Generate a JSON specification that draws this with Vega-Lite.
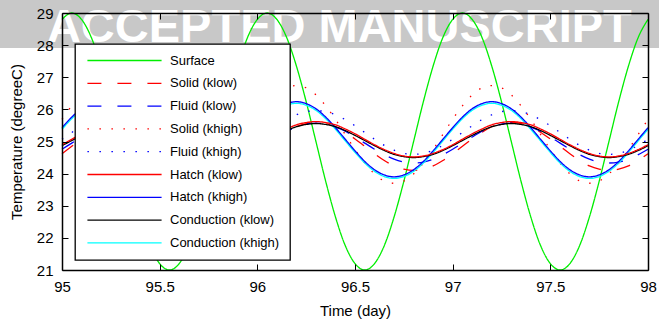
{
"$schema":"https://vega.github.io/schema/vega-lite/v6.json",
"width":586,"height":257,
"autosize":{"type":"none"},
"padding":{"left":62,"top":13,"right":11,"bottom":51},
"background":"white",
"title":{"text":"Hc = 2.50 - Ar/d = 0.2m","fontSize":15,"fontWeight":"normal","font":"Liberation Sans","color":"black","offset":10,"baseline":"bottom","dx":-24},
"config":{
 "view":{"stroke":null},
 "axis":{"domainColor":"black","domainWidth":1.5,"tickColor":"black","tickWidth":1,"tickSize":-6,"grid":false,"labelFlush":false,"labelOverlap":false,"labelFont":"Liberation Sans","labelFontSize":15,"labelColor":"black","titleFont":"Liberation Sans","titleFontSize":15,"titleFontWeight":"normal","titleColor":"black"},
 "legend":{"orient":"none","legendX":13,"legendY":31,"fillColor":"white","strokeColor":"black","strokeWidth":1.3,"padding":10,"rowPadding":8.8,"symbolType":"M-10,0L10,0","symbolSize":55,"symbolOffset":33,"labelOffset":39,"labelFont":"Liberation Sans","labelFontSize":13,"labelColor":"black","labelLimit":0}
},
"datasets":{
 "band":[{"x1":94.6,"x2":98.2,"y1":27.91,"y2":29.7}],
 "stamp":[{"x":96.42,"y":28.11,"label":"ACCEPTED MANUSCRIPT"}],
 "series":[
{"t":95.00,"Surface":28.80,"Solid (klow)":24.62,"Fluid (klow)":24.76,"Solid (khigh)":25.69,"Fluid (khigh)":25.07,"Hatch (klow)":24.90,"Hatch (khigh)":25.43,"Conduction (klow)":24.87,"Conduction (khigh)":25.38},
{"t":95.05,"Surface":29.00,"Solid (klow)":24.85,"Fluid (klow)":24.95,"Solid (khigh)":26.11,"Fluid (khigh)":25.28,"Hatch (klow)":25.07,"Hatch (khigh)":25.76,"Conduction (klow)":25.03,"Conduction (khigh)":25.71},
{"t":95.10,"Surface":28.80,"Solid (klow)":25.08,"Fluid (klow)":25.14,"Solid (khigh)":26.45,"Fluid (khigh)":25.49,"Hatch (klow)":25.24,"Hatch (khigh)":26.02,"Conduction (klow)":25.19,"Conduction (khigh)":25.97},
{"t":95.15,"Surface":28.24,"Solid (klow)":25.29,"Fluid (klow)":25.32,"Solid (khigh)":26.67,"Fluid (khigh)":25.68,"Hatch (klow)":25.39,"Hatch (khigh)":26.18,"Conduction (klow)":25.34,"Conduction (khigh)":26.13},
{"t":95.20,"Surface":27.35,"Solid (klow)":25.46,"Fluid (klow)":25.45,"Solid (khigh)":26.74,"Fluid (khigh)":25.83,"Hatch (klow)":25.52,"Hatch (khigh)":26.24,"Conduction (klow)":25.46,"Conduction (khigh)":26.19},
{"t":95.25,"Surface":26.24,"Solid (klow)":25.56,"Fluid (klow)":25.54,"Solid (khigh)":26.67,"Fluid (khigh)":25.93,"Hatch (klow)":25.59,"Hatch (khigh)":26.18,"Conduction (klow)":25.53,"Conduction (khigh)":26.13},
{"t":95.30,"Surface":25.00,"Solid (klow)":25.60,"Fluid (klow)":25.57,"Solid (khigh)":26.45,"Fluid (khigh)":25.96,"Hatch (klow)":25.62,"Hatch (khigh)":26.02,"Conduction (klow)":25.56,"Conduction (khigh)":25.97},
{"t":95.35,"Surface":23.76,"Solid (klow)":25.56,"Fluid (klow)":25.54,"Solid (khigh)":26.11,"Fluid (khigh)":25.93,"Hatch (klow)":25.59,"Hatch (khigh)":25.76,"Conduction (klow)":25.53,"Conduction (khigh)":25.71},
{"t":95.40,"Surface":22.65,"Solid (klow)":25.46,"Fluid (klow)":25.45,"Solid (khigh)":25.69,"Fluid (khigh)":25.83,"Hatch (klow)":25.52,"Hatch (khigh)":25.43,"Conduction (klow)":25.46,"Conduction (khigh)":25.38},
{"t":95.45,"Surface":21.76,"Solid (klow)":25.29,"Fluid (klow)":25.32,"Solid (khigh)":25.22,"Fluid (khigh)":25.68,"Hatch (klow)":25.39,"Hatch (khigh)":25.07,"Conduction (klow)":25.34,"Conduction (khigh)":25.02},
{"t":95.50,"Surface":21.20,"Solid (klow)":25.08,"Fluid (klow)":25.14,"Solid (khigh)":24.75,"Fluid (khigh)":25.49,"Hatch (klow)":25.24,"Hatch (khigh)":24.71,"Conduction (klow)":25.19,"Conduction (khigh)":24.66},
{"t":95.55,"Surface":21.00,"Solid (klow)":24.85,"Fluid (klow)":24.95,"Solid (khigh)":24.33,"Fluid (khigh)":25.28,"Hatch (klow)":25.07,"Hatch (khigh)":24.38,"Conduction (klow)":25.03,"Conduction (khigh)":24.33},
{"t":95.60,"Surface":21.20,"Solid (klow)":24.62,"Fluid (klow)":24.76,"Solid (khigh)":23.99,"Fluid (khigh)":25.07,"Hatch (klow)":24.90,"Hatch (khigh)":24.12,"Conduction (klow)":24.87,"Conduction (khigh)":24.07},
{"t":95.65,"Surface":21.76,"Solid (klow)":24.41,"Fluid (klow)":24.59,"Solid (khigh)":23.77,"Fluid (khigh)":24.88,"Hatch (klow)":24.75,"Hatch (khigh)":23.96,"Conduction (klow)":24.72,"Conduction (khigh)":23.91},
{"t":95.70,"Surface":22.65,"Solid (klow)":24.24,"Fluid (klow)":24.45,"Solid (khigh)":23.70,"Fluid (khigh)":24.73,"Hatch (klow)":24.63,"Hatch (khigh)":23.90,"Conduction (klow)":24.60,"Conduction (khigh)":23.85},
{"t":95.75,"Surface":23.76,"Solid (klow)":24.14,"Fluid (klow)":24.36,"Solid (khigh)":23.77,"Fluid (khigh)":24.63,"Hatch (klow)":24.55,"Hatch (khigh)":23.96,"Conduction (klow)":24.53,"Conduction (khigh)":23.91},
{"t":95.80,"Surface":25.00,"Solid (klow)":24.10,"Fluid (klow)":24.33,"Solid (khigh)":23.99,"Fluid (khigh)":24.60,"Hatch (klow)":24.52,"Hatch (khigh)":24.12,"Conduction (klow)":24.50,"Conduction (khigh)":24.07},
{"t":95.85,"Surface":26.24,"Solid (klow)":24.14,"Fluid (klow)":24.36,"Solid (khigh)":24.33,"Fluid (khigh)":24.63,"Hatch (klow)":24.55,"Hatch (khigh)":24.38,"Conduction (klow)":24.53,"Conduction (khigh)":24.33},
{"t":95.90,"Surface":27.35,"Solid (klow)":24.24,"Fluid (klow)":24.45,"Solid (khigh)":24.75,"Fluid (khigh)":24.73,"Hatch (klow)":24.63,"Hatch (khigh)":24.71,"Conduction (klow)":24.60,"Conduction (khigh)":24.66},
{"t":95.95,"Surface":28.24,"Solid (klow)":24.41,"Fluid (klow)":24.59,"Solid (khigh)":25.22,"Fluid (khigh)":24.88,"Hatch (klow)":24.75,"Hatch (khigh)":25.07,"Conduction (klow)":24.72,"Conduction (khigh)":25.02},
{"t":96.00,"Surface":28.80,"Solid (klow)":24.62,"Fluid (klow)":24.76,"Solid (khigh)":25.69,"Fluid (khigh)":25.07,"Hatch (klow)":24.90,"Hatch (khigh)":25.43,"Conduction (klow)":24.87,"Conduction (khigh)":25.38},
{"t":96.05,"Surface":29.00,"Solid (klow)":24.85,"Fluid (klow)":24.95,"Solid (khigh)":26.11,"Fluid (khigh)":25.28,"Hatch (klow)":25.07,"Hatch (khigh)":25.76,"Conduction (klow)":25.03,"Conduction (khigh)":25.71},
{"t":96.10,"Surface":28.80,"Solid (klow)":25.08,"Fluid (klow)":25.14,"Solid (khigh)":26.45,"Fluid (khigh)":25.49,"Hatch (klow)":25.24,"Hatch (khigh)":26.02,"Conduction (klow)":25.19,"Conduction (khigh)":25.97},
{"t":96.15,"Surface":28.24,"Solid (klow)":25.29,"Fluid (klow)":25.32,"Solid (khigh)":26.67,"Fluid (khigh)":25.68,"Hatch (klow)":25.39,"Hatch (khigh)":26.18,"Conduction (klow)":25.34,"Conduction (khigh)":26.13},
{"t":96.20,"Surface":27.35,"Solid (klow)":25.46,"Fluid (klow)":25.45,"Solid (khigh)":26.74,"Fluid (khigh)":25.83,"Hatch (klow)":25.52,"Hatch (khigh)":26.24,"Conduction (klow)":25.46,"Conduction (khigh)":26.19},
{"t":96.25,"Surface":26.24,"Solid (klow)":25.56,"Fluid (klow)":25.54,"Solid (khigh)":26.67,"Fluid (khigh)":25.93,"Hatch (klow)":25.59,"Hatch (khigh)":26.18,"Conduction (klow)":25.53,"Conduction (khigh)":26.13},
{"t":96.30,"Surface":25.00,"Solid (klow)":25.60,"Fluid (klow)":25.57,"Solid (khigh)":26.45,"Fluid (khigh)":25.96,"Hatch (klow)":25.62,"Hatch (khigh)":26.02,"Conduction (klow)":25.56,"Conduction (khigh)":25.97},
{"t":96.35,"Surface":23.76,"Solid (klow)":25.56,"Fluid (klow)":25.54,"Solid (khigh)":26.11,"Fluid (khigh)":25.93,"Hatch (klow)":25.59,"Hatch (khigh)":25.76,"Conduction (klow)":25.53,"Conduction (khigh)":25.71},
{"t":96.40,"Surface":22.65,"Solid (klow)":25.46,"Fluid (klow)":25.45,"Solid (khigh)":25.69,"Fluid (khigh)":25.83,"Hatch (klow)":25.52,"Hatch (khigh)":25.43,"Conduction (klow)":25.46,"Conduction (khigh)":25.38},
{"t":96.45,"Surface":21.76,"Solid (klow)":25.29,"Fluid (klow)":25.32,"Solid (khigh)":25.22,"Fluid (khigh)":25.68,"Hatch (klow)":25.39,"Hatch (khigh)":25.07,"Conduction (klow)":25.34,"Conduction (khigh)":25.02},
{"t":96.50,"Surface":21.20,"Solid (klow)":25.08,"Fluid (klow)":25.14,"Solid (khigh)":24.75,"Fluid (khigh)":25.49,"Hatch (klow)":25.24,"Hatch (khigh)":24.71,"Conduction (klow)":25.19,"Conduction (khigh)":24.66},
{"t":96.55,"Surface":21.00,"Solid (klow)":24.85,"Fluid (klow)":24.95,"Solid (khigh)":24.33,"Fluid (khigh)":25.28,"Hatch (klow)":25.07,"Hatch (khigh)":24.38,"Conduction (klow)":25.03,"Conduction (khigh)":24.33},
{"t":96.60,"Surface":21.20,"Solid (klow)":24.62,"Fluid (klow)":24.76,"Solid (khigh)":23.99,"Fluid (khigh)":25.07,"Hatch (klow)":24.90,"Hatch (khigh)":24.12,"Conduction (klow)":24.87,"Conduction (khigh)":24.07},
{"t":96.65,"Surface":21.76,"Solid (klow)":24.41,"Fluid (klow)":24.59,"Solid (khigh)":23.77,"Fluid (khigh)":24.88,"Hatch (klow)":24.75,"Hatch (khigh)":23.96,"Conduction (klow)":24.72,"Conduction (khigh)":23.91},
{"t":96.70,"Surface":22.65,"Solid (klow)":24.24,"Fluid (klow)":24.45,"Solid (khigh)":23.70,"Fluid (khigh)":24.73,"Hatch (klow)":24.63,"Hatch (khigh)":23.90,"Conduction (klow)":24.60,"Conduction (khigh)":23.85},
{"t":96.75,"Surface":23.76,"Solid (klow)":24.14,"Fluid (klow)":24.36,"Solid (khigh)":23.77,"Fluid (khigh)":24.63,"Hatch (klow)":24.55,"Hatch (khigh)":23.96,"Conduction (klow)":24.53,"Conduction (khigh)":23.91},
{"t":96.80,"Surface":25.00,"Solid (klow)":24.10,"Fluid (klow)":24.33,"Solid (khigh)":23.99,"Fluid (khigh)":24.60,"Hatch (klow)":24.52,"Hatch (khigh)":24.12,"Conduction (klow)":24.50,"Conduction (khigh)":24.07},
{"t":96.85,"Surface":26.24,"Solid (klow)":24.14,"Fluid (klow)":24.36,"Solid (khigh)":24.33,"Fluid (khigh)":24.63,"Hatch (klow)":24.55,"Hatch (khigh)":24.38,"Conduction (klow)":24.53,"Conduction (khigh)":24.33},
{"t":96.90,"Surface":27.35,"Solid (klow)":24.24,"Fluid (klow)":24.45,"Solid (khigh)":24.75,"Fluid (khigh)":24.73,"Hatch (klow)":24.63,"Hatch (khigh)":24.71,"Conduction (klow)":24.60,"Conduction (khigh)":24.66},
{"t":96.95,"Surface":28.24,"Solid (klow)":24.41,"Fluid (klow)":24.59,"Solid (khigh)":25.22,"Fluid (khigh)":24.88,"Hatch (klow)":24.75,"Hatch (khigh)":25.07,"Conduction (klow)":24.72,"Conduction (khigh)":25.02},
{"t":97.00,"Surface":28.80,"Solid (klow)":24.62,"Fluid (klow)":24.76,"Solid (khigh)":25.69,"Fluid (khigh)":25.07,"Hatch (klow)":24.90,"Hatch (khigh)":25.43,"Conduction (klow)":24.87,"Conduction (khigh)":25.38},
{"t":97.05,"Surface":29.00,"Solid (klow)":24.85,"Fluid (klow)":24.95,"Solid (khigh)":26.11,"Fluid (khigh)":25.28,"Hatch (klow)":25.07,"Hatch (khigh)":25.76,"Conduction (klow)":25.03,"Conduction (khigh)":25.71},
{"t":97.10,"Surface":28.80,"Solid (klow)":25.08,"Fluid (klow)":25.14,"Solid (khigh)":26.45,"Fluid (khigh)":25.49,"Hatch (klow)":25.24,"Hatch (khigh)":26.02,"Conduction (klow)":25.19,"Conduction (khigh)":25.97},
{"t":97.15,"Surface":28.24,"Solid (klow)":25.29,"Fluid (klow)":25.32,"Solid (khigh)":26.67,"Fluid (khigh)":25.68,"Hatch (klow)":25.39,"Hatch (khigh)":26.18,"Conduction (klow)":25.34,"Conduction (khigh)":26.13},
{"t":97.20,"Surface":27.35,"Solid (klow)":25.46,"Fluid (klow)":25.45,"Solid (khigh)":26.74,"Fluid (khigh)":25.83,"Hatch (klow)":25.52,"Hatch (khigh)":26.24,"Conduction (klow)":25.46,"Conduction (khigh)":26.19},
{"t":97.25,"Surface":26.24,"Solid (klow)":25.56,"Fluid (klow)":25.54,"Solid (khigh)":26.67,"Fluid (khigh)":25.93,"Hatch (klow)":25.59,"Hatch (khigh)":26.18,"Conduction (klow)":25.53,"Conduction (khigh)":26.13},
{"t":97.30,"Surface":25.00,"Solid (klow)":25.60,"Fluid (klow)":25.57,"Solid (khigh)":26.45,"Fluid (khigh)":25.96,"Hatch (klow)":25.62,"Hatch (khigh)":26.02,"Conduction (klow)":25.56,"Conduction (khigh)":25.97},
{"t":97.35,"Surface":23.76,"Solid (klow)":25.56,"Fluid (klow)":25.54,"Solid (khigh)":26.11,"Fluid (khigh)":25.93,"Hatch (klow)":25.59,"Hatch (khigh)":25.76,"Conduction (klow)":25.53,"Conduction (khigh)":25.71},
{"t":97.40,"Surface":22.65,"Solid (klow)":25.46,"Fluid (klow)":25.45,"Solid (khigh)":25.69,"Fluid (khigh)":25.83,"Hatch (klow)":25.52,"Hatch (khigh)":25.43,"Conduction (klow)":25.46,"Conduction (khigh)":25.38},
{"t":97.45,"Surface":21.76,"Solid (klow)":25.29,"Fluid (klow)":25.32,"Solid (khigh)":25.22,"Fluid (khigh)":25.68,"Hatch (klow)":25.39,"Hatch (khigh)":25.07,"Conduction (klow)":25.34,"Conduction (khigh)":25.02},
{"t":97.50,"Surface":21.20,"Solid (klow)":25.08,"Fluid (klow)":25.14,"Solid (khigh)":24.75,"Fluid (khigh)":25.49,"Hatch (klow)":25.24,"Hatch (khigh)":24.71,"Conduction (klow)":25.19,"Conduction (khigh)":24.66},
{"t":97.55,"Surface":21.00,"Solid (klow)":24.85,"Fluid (klow)":24.95,"Solid (khigh)":24.33,"Fluid (khigh)":25.28,"Hatch (klow)":25.07,"Hatch (khigh)":24.38,"Conduction (klow)":25.03,"Conduction (khigh)":24.33},
{"t":97.60,"Surface":21.20,"Solid (klow)":24.62,"Fluid (klow)":24.76,"Solid (khigh)":23.99,"Fluid (khigh)":25.07,"Hatch (klow)":24.90,"Hatch (khigh)":24.12,"Conduction (klow)":24.87,"Conduction (khigh)":24.07},
{"t":97.65,"Surface":21.76,"Solid (klow)":24.41,"Fluid (klow)":24.59,"Solid (khigh)":23.77,"Fluid (khigh)":24.88,"Hatch (klow)":24.75,"Hatch (khigh)":23.96,"Conduction (klow)":24.72,"Conduction (khigh)":23.91},
{"t":97.70,"Surface":22.65,"Solid (klow)":24.24,"Fluid (klow)":24.45,"Solid (khigh)":23.70,"Fluid (khigh)":24.73,"Hatch (klow)":24.63,"Hatch (khigh)":23.90,"Conduction (klow)":24.60,"Conduction (khigh)":23.85},
{"t":97.75,"Surface":23.76,"Solid (klow)":24.14,"Fluid (klow)":24.36,"Solid (khigh)":23.77,"Fluid (khigh)":24.63,"Hatch (klow)":24.55,"Hatch (khigh)":23.96,"Conduction (klow)":24.53,"Conduction (khigh)":23.91},
{"t":97.80,"Surface":25.00,"Solid (klow)":24.10,"Fluid (klow)":24.33,"Solid (khigh)":23.99,"Fluid (khigh)":24.60,"Hatch (klow)":24.52,"Hatch (khigh)":24.12,"Conduction (klow)":24.50,"Conduction (khigh)":24.07},
{"t":97.85,"Surface":26.24,"Solid (klow)":24.14,"Fluid (klow)":24.36,"Solid (khigh)":24.33,"Fluid (khigh)":24.63,"Hatch (klow)":24.55,"Hatch (khigh)":24.38,"Conduction (klow)":24.53,"Conduction (khigh)":24.33},
{"t":97.90,"Surface":27.35,"Solid (klow)":24.24,"Fluid (klow)":24.45,"Solid (khigh)":24.75,"Fluid (khigh)":24.73,"Hatch (klow)":24.63,"Hatch (khigh)":24.71,"Conduction (klow)":24.60,"Conduction (khigh)":24.66},
{"t":97.95,"Surface":28.24,"Solid (klow)":24.41,"Fluid (klow)":24.59,"Solid (khigh)":25.22,"Fluid (khigh)":24.88,"Hatch (klow)":24.75,"Hatch (khigh)":25.07,"Conduction (klow)":24.72,"Conduction (khigh)":25.02},
{"t":98.00,"Surface":28.80,"Solid (klow)":24.62,"Fluid (klow)":24.76,"Solid (khigh)":25.69,"Fluid (khigh)":25.07,"Hatch (klow)":24.90,"Hatch (khigh)":25.43,"Conduction (klow)":24.87,"Conduction (khigh)":25.38}
 ]
},
"layer":[
 {"data":{"name":"band"},
  "mark":{"type":"rect","color":"#c8c8c8","clip":false},
  "encoding":{
   "x":{"field":"x1","type":"quantitative","scale":{"domain":[95,98],"nice":false,"zero":false},"axis":{"orient":"top","labels":false,"title":null,"zindex":1,"values":[95,95.5,96,96.5,97,97.5,98]}},
   "x2":{"field":"x2"},
   "y":{"field":"y1","type":"quantitative","scale":{"domain":[21,29],"nice":false,"zero":false},"axis":{"orient":"right","labels":false,"title":null,"zindex":1,"values":[21,22,23,24,25,26,27,28,29]}},
   "y2":{"field":"y2"}}},
 {"data":{"name":"stamp"},
  "mark":{"type":"text","font":"Liberation Sans","fontWeight":"bold","fontSize":47,"color":"white","align":"center","baseline":"alphabetic","clip":false},
  "encoding":{
   "x":{"field":"x","type":"quantitative","scale":{"domain":[95,98],"nice":false,"zero":false},"axis":null},
   "y":{"field":"y","type":"quantitative","scale":{"domain":[21,29],"nice":false,"zero":false},"axis":null},
   "text":{"field":"label"}}},
 {"data":{"name":"series"},
  "transform":[{"fold":["Surface","Solid (klow)","Fluid (klow)","Solid (khigh)","Fluid (khigh)","Conduction (khigh)","Hatch (khigh)","Conduction (klow)","Hatch (klow)"],"as":["series","T"]}],
  "mark":{"type":"line","interpolate":"monotone","strokeCap":"butt"},
  "encoding":{
   "x":{"field":"t","type":"quantitative","scale":{"domain":[95,98],"nice":false,"zero":false},"axis":{"orient":"bottom","title":"Time (day)","zindex":1,"values":[95,95.5,96,96.5,97,97.5,98],"format":"~g","labelPadding":15,"titlePadding":9}},
   "y":{"field":"T","type":"quantitative","scale":{"domain":[21,29],"nice":false,"zero":false},"axis":{"orient":"left","title":"Temperature (degreeC)","zindex":1,"values":[21,22,23,24,25,26,27,28,29],"labelPadding":15,"titlePadding":12}},
   "color":{"field":"series","type":"nominal","scale":{"domain":["Surface","Solid (klow)","Fluid (klow)","Solid (khigh)","Fluid (khigh)","Hatch (klow)","Hatch (khigh)","Conduction (klow)","Conduction (khigh)"],"range":["#00ee00","#ff0000","#0000ff","#ff0000","#0000ff","#ff0000","#0000ff","#000000","#00ffff"]},"legend":{"title":null}},
   "strokeDash":{"field":"series","type":"nominal","scale":{"domain":["Surface","Solid (klow)","Fluid (klow)","Solid (khigh)","Fluid (khigh)","Hatch (klow)","Hatch (khigh)","Conduction (klow)","Conduction (khigh)"],"range":[[1,0],[14,16],[14,16],[1.5,10.5],[1.5,10.5],[1,0],[1,0],[1,0],[1,0]]},"legend":{"title":null}},
   "strokeWidth":{"field":"series","type":"nominal","scale":{"domain":["Surface","Solid (klow)","Fluid (klow)","Solid (khigh)","Fluid (khigh)","Hatch (klow)","Hatch (khigh)","Conduction (klow)","Conduction (khigh)"],"range":[1.3,1.3,1.3,1.5,1.5,1.5,1.5,1.5,2.6]},"legend":{"title":null}}}}
],
"resolve":{"axis":{"x":"independent","y":"independent"}}
}
